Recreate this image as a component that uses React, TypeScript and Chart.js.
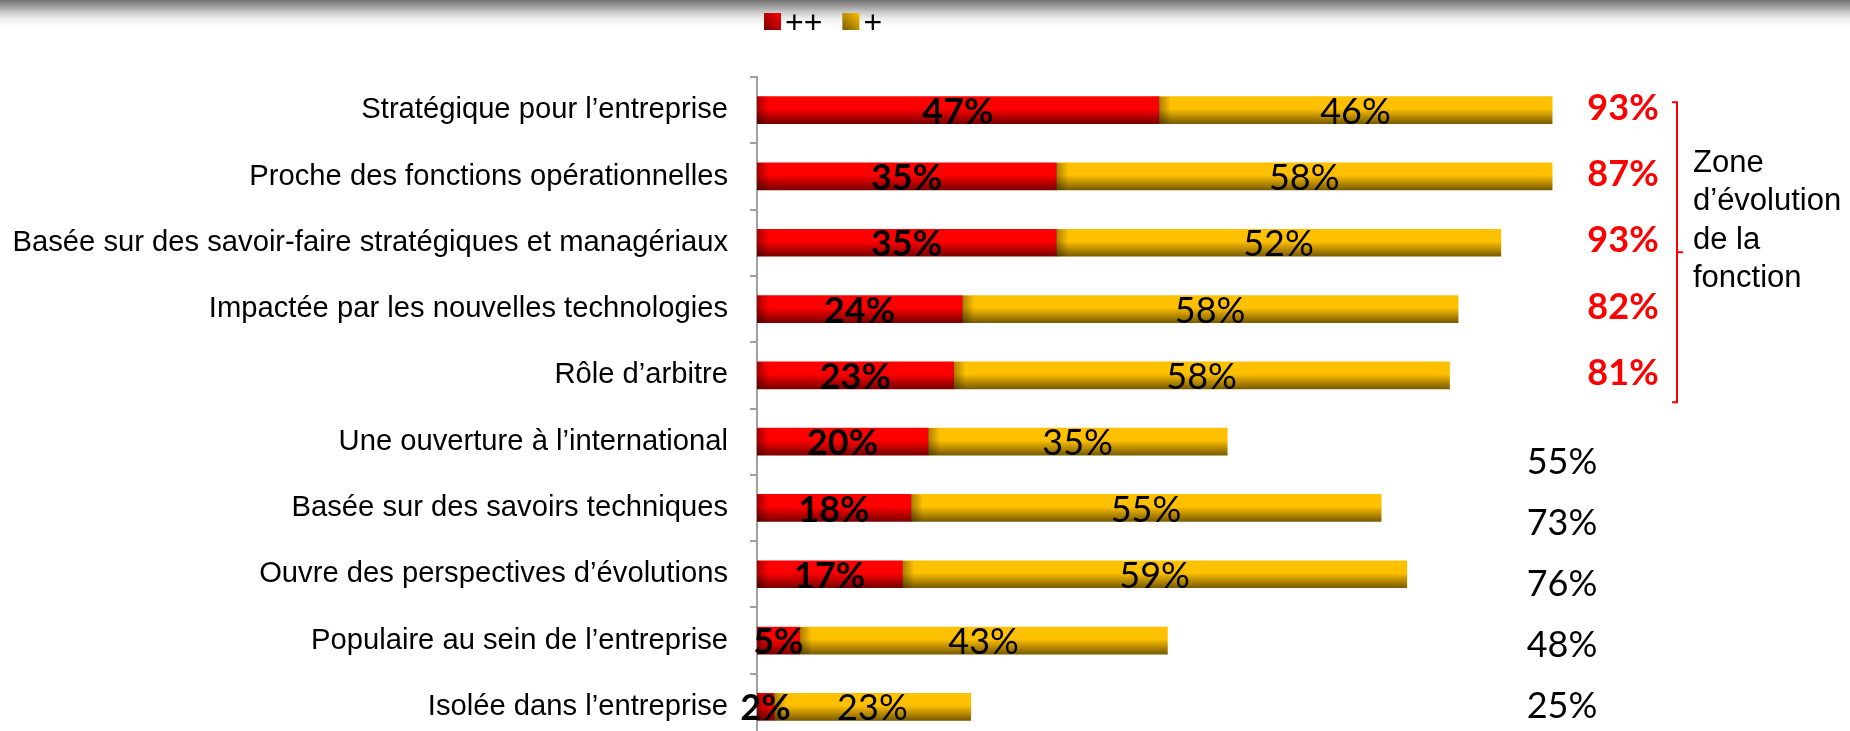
import React, { useEffect, useRef } from "react";
import { Chart, registerables } from "chart.js";

Chart.register(...registerables);

const categories = [
  "Stratégique pour l’entreprise",
  "Proche des fonctions opérationnelles",
  "Basée sur des savoir-faire stratégiques et managériaux",
  "Impactée par les nouvelles technologies",
  "Rôle d’arbitre",
  "Une ouverture à l’international",
  "Basée sur des savoirs techniques",
  "Ouvre des perspectives d’évolutions",
  "Populaire au sein de l’entreprise",
  "Isolée dans l’entreprise",
];
const plusPlus = [47, 35, 35, 24, 23, 20, 18, 17, 5, 2];
const plus = [46, 58, 52, 58, 58, 35, 55, 59, 43, 23];
const totalLabels = ["93%", "87%", "93%", "82%", "81%", "55%", "73%", "76%", "48%", "25%"];
const highlighted = [true, true, true, true, true, false, false, false, false, false];
const zoneText = ["Zone", "d’évolution", "de la", "fonction"];
const legendLabels = ["++", "+"];

const RED_TOP = "#ff0000";
const RED_BOTTOM = "#7a0000";
const YEL_TOP = "#ffc000";
const YEL_BOTTOM = "#7a5c00";
const BAR_THICK = 27;
const CANVAS_H = 740;

function barGradient(ctx: any, top: string, bottom: string) {
  const chart = ctx.chart;
  const yScale = chart.scales && chart.scales.y;
  if (!yScale || ctx.dataIndex === undefined) return top;
  const c = yScale.getPixelForValue(ctx.dataIndex);
  if (!isFinite(c)) return top;
  const g = chart.ctx.createLinearGradient(0, c - BAR_THICK / 2, 0, c + BAR_THICK / 2);
  g.addColorStop(0, top);
  g.addColorStop(0.45, top);
  g.addColorStop(1, bottom);
  return g;
}

const overlayPlugin = {
  id: "overlay",
  afterDatasetsDraw(chart: any) {
    const { ctx, scales, chartArea } = chart;
    const x = scales.x;
    const y = scales.y;
    ctx.save();
    // left edge shading of each segment
    chart.data.datasets.forEach((ds: any, di: number) => {
      const meta = chart.getDatasetMeta(di);
      meta.data.forEach((bar: any) => {
        const p = bar.getProps(["x", "y", "base", "height"], true);
        const left = Math.min(p.x, p.base);
        const w = Math.abs(p.x - p.base);
        const sw = Math.min(12, w);
        if (sw <= 0) return;
        const g = ctx.createLinearGradient(left, 0, left + sw, 0);
        g.addColorStop(0, "rgba(0,0,0,0.35)");
        g.addColorStop(1, "rgba(0,0,0,0)");
        ctx.fillStyle = g;
        ctx.fillRect(left, p.y - p.height / 2, sw, p.height);
      });
    });
    // segment value labels
    ctx.textAlign = "center";
    ctx.textBaseline = "middle";
    ctx.fillStyle = "#000";
    chart.data.datasets.forEach((ds: any, di: number) => {
      const meta = chart.getDatasetMeta(di);
      ctx.font = (di === 0 ? "bold " : "") + "36px Lato";
      meta.data.forEach((bar: any, i: number) => {
        const p = bar.getProps(["x", "y", "base"], true);
        ctx.fillText(ds.data[i] + "%", (p.x + p.base) / 2, p.y + 2);
      });
    });
    // totals
    const step = y.getPixelForValue(1) - y.getPixelForValue(0);
    totalLabels.forEach((t, i) => {
      if (highlighted[i]) {
        ctx.font = "bold 36px Lato";
        ctx.fillStyle = "#ff0000";
        ctx.fillText(t, x.getPixelForValue(100) + 11, y.getPixelForValue(i) - 2);
      } else {
        ctx.font = "36px Lato";
        ctx.fillStyle = "#000";
        const yy = y.getPixelForValue(8) + (i - 8) * step * 0.92 + 5;
        ctx.fillText(t, chartArea.right - 50, yy);
      }
    });
    // bracket
    const hi = highlighted.lastIndexOf(true);
    const bx = chartArea.right + 65;
    const top = y.getPixelForValue(0) - 8;
    const bottom = y.getPixelForValue(hi) + 27;
    const mid = (top + bottom) / 2;
    ctx.strokeStyle = "#ff0000";
    ctx.lineWidth = 2;
    ctx.beginPath();
    ctx.moveTo(bx - 5, top);
    ctx.lineTo(bx, top);
    ctx.lineTo(bx, bottom);
    ctx.lineTo(bx - 5, bottom);
    ctx.moveTo(bx, mid);
    ctx.lineTo(bx + 6, mid);
    ctx.stroke();
    // zone text
    ctx.fillStyle = "#000";
    ctx.font = "31px 'Liberation Sans', Arial";
    ctx.textAlign = "left";
    ctx.textBaseline = "alphabetic";
    zoneText.forEach((t, i) => {
      ctx.fillText(t, bx + 16, 172 + i * 38.3);
    });
    // legend
    const legendColors = [
      [RED_TOP, RED_BOTTOM],
      [YEL_TOP, YEL_BOTTOM],
    ];
    let lx = 764;
    ctx.font = "32px 'Liberation Sans', Arial";
    ctx.textBaseline = "middle";
    legendLabels.forEach((lab, i) => {
      const g = ctx.createLinearGradient(lx + 17, 13, lx, 30);
      g.addColorStop(0, legendColors[i][0]);
      g.addColorStop(1, legendColors[i][1]);
      ctx.fillStyle = g;
      ctx.fillRect(lx, 13, 17, 17);
      ctx.fillStyle = "#000";
      ctx.fillText(lab, lx + 21, 24);
      lx += 21 + ctx.measureText(lab).width + 20;
    });
    ctx.restore();
  },
};

export default function App() {
  const canvasRef = useRef<HTMLCanvasElement | null>(null);
  useEffect(() => {
    document.documentElement.style.overflow = "hidden";
    const canvas = canvasRef.current;
    if (!canvas) return;
    const chart = new Chart(canvas, {
      type: "bar",
      data: {
        labels: categories,
        datasets: [
          {
            label: legendLabels[0],
            data: plusPlus,
            backgroundColor: (c: any) => barGradient(c, RED_TOP, RED_BOTTOM),
            barThickness: BAR_THICK,
            borderWidth: 0,
          },
          {
            label: legendLabels[1],
            data: plus,
            backgroundColor: (c: any) => barGradient(c, YEL_TOP, YEL_BOTTOM),
            barThickness: BAR_THICK,
            borderWidth: 0,
          },
        ],
      },
      options: {
        indexAxis: "y",
        responsive: false,
        animation: false,
        layout: { padding: { top: 77, right: 238, bottom: 0, left: 0 } },
        plugins: { legend: { display: false }, tooltip: { enabled: false } },
        scales: {
          x: { stacked: true, min: 0, max: 100, display: false },
          y: {
            stacked: true,
            afterFit: (scale: any) => {
              scale.width = 757;
              scale.paddingTop = 0;
              scale.paddingBottom = 0;
            },
            border: { display: true, color: "#a0a0a0", width: 2 },
            grid: {
              display: true,
              drawOnChartArea: false,
              drawTicks: true,
              tickLength: 7,
              color: "#a0a0a0",
              lineWidth: 2,
              offset: true,
            },
            ticks: {
              autoSkip: false,
              padding: 22,
              color: "#000",
              font: { family: "'Liberation Sans', Arial", size: 29.2 },
            },
          },
        },
      },
      plugins: [overlayPlugin],
    } as any);
    const deficit = CANVAS_H - chart.chartArea.bottom;
    if (deficit > 0.5) {
      (chart.options as any).layout.padding.bottom = -deficit;
      chart.update();
    }
    return () => chart.destroy();
  }, []);
  return (
    <div
      style={{
        position: "absolute",
        top: 0,
        left: 0,
        width: 1850,
        height: 731,
        overflow: "hidden",
        background:
          "linear-gradient(to bottom, #737373 0px, #9a9a9a 6px, #cfcfcf 13px, #eeeeee 19px, #fcfcfc 25px, #ffffff 30px)",
      }}
    >
      <canvas ref={canvasRef} width={1850} height={CANVAS_H} style={{ display: "block" }} />
    </div>
  );
}
